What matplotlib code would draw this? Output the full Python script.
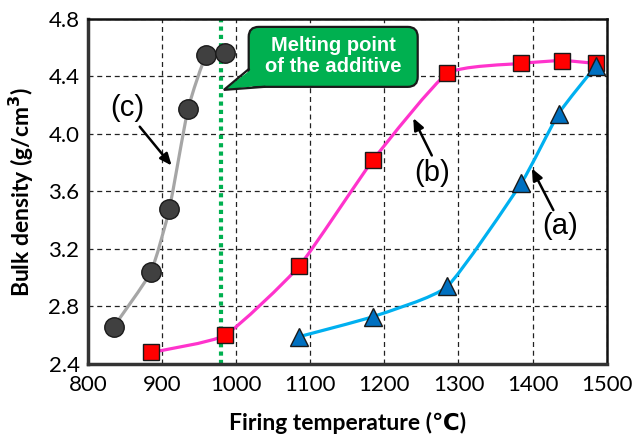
import numpy as np
import matplotlib
matplotlib.use("Agg")
import matplotlib.pyplot as plt
from matplotlib.path import Path
from matplotlib.patches import PathPatch, Polygon, FancyBboxPatch

# ---- data ----
temp_a = [1085, 1185, 1285, 1385, 1435, 1485]
dens_a = [2.59, 2.73, 2.94, 3.66, 4.14, 4.47]

temp_b = [885, 985, 1085, 1185, 1285, 1385, 1440, 1485]
dens_b = [2.48, 2.60, 3.08, 3.82, 4.42, 4.49, 4.51, 4.49]

temp_c = [835, 885, 910, 935, 960, 985]
dens_c = [2.66, 3.04, 3.48, 4.17, 4.55, 4.56]

melting_point = 980
x_ticks = [800, 900, 1000, 1100, 1200, 1300, 1400, 1500]
y_ticks = [2.4, 2.8, 3.2, 3.6, 4.0, 4.4, 4.8]

plt.rcParams['font.family'] = ['Liberation Sans', 'DejaVu Sans']

fig = plt.figure(figsize=(6.32, 4.38), dpi=100)
ax = fig.add_axes([0.139, 0.169, 0.821, 0.788])


def smooth_path(xs, ys, k=1 / 12.0):
    """Gently smoothed line through the points (cubic Bezier)."""
    pts = np.column_stack([xs, ys]).astype(float)
    n = len(pts)
    verts = [pts[0]]
    codes = [Path.MOVETO]
    for i in range(n - 1):
        p0 = pts[i - 1] if i > 0 else pts[i]
        p1 = pts[i]
        p2 = pts[i + 1]
        p3 = pts[i + 2] if i + 2 < n else pts[i + 1]
        c1 = p1 + (p2 - p0) * k
        c2 = p2 - (p3 - p1) * k
        verts += [c1, c2, p2]
        codes += [Path.CURVE4] * 3
    return Path(verts, codes)


series = [
    (temp_c, dens_c, '#A6A6A6', 'o', '#404040', 14),
    (temp_b, dens_b, '#FF33CC', 's', '#FF0000', 12),
    (temp_a, dens_a, '#00B0F0', '^', '#0070C0', 13),
]
for xs, ys, lc, mk, mc, ms in series:
    ax.add_patch(PathPatch(smooth_path(xs, ys), fill=False, edgecolor=lc,
                           lw=2.3, zorder=3, capstyle='round'))
    ax.plot(xs, ys, linestyle='none', marker=mk, markersize=ms,
            markerfacecolor=mc, markeredgecolor='#1a1a1a',
            markeredgewidth=1.0, zorder=4)

# melting point line
ax.axvline(melting_point, color='#00B050', lw=3, linestyle=(0, (1, 1)), zorder=2)

ax.set_xlim(800, 1500)
ax.set_ylim(2.4, 4.8)
ax.set_xticks(x_ticks)
ax.set_yticks(y_ticks)
ax.set_xticklabels([str(v) for v in x_ticks])
ax.set_yticklabels([f'{v:.1f}' for v in y_ticks])
ax.tick_params(axis='x', length=0, labelsize=16, pad=8)
ax.tick_params(axis='y', length=0, labelsize=16, pad=6)
for lab in ax.get_xticklabels() + ax.get_yticklabels():
    lab.set_fontfamily(['Lato', 'DejaVu Sans'])
ax.grid(True, color='#222222', linestyle=(0, (4, 3)), lw=0.9)
ax.set_axisbelow(True)
for side in ['left', 'bottom']:
    ax.spines[side].set_linewidth(2.5)
    ax.spines[side].set_color('#333333')
for side in ['top', 'right']:
    ax.spines[side].set_linewidth(1.8)
    ax.spines[side].set_color('#111111')

ax.set_xlabel('Firing temperature (\u2103)', fontsize=16.5, fontweight='bold',
              labelpad=12, fontfamily=['Lato', 'DejaVu Sans'])
ax.set_ylabel('Bulk density (g/cm$^\\mathbf{3}$)', fontsize=16.5, fontweight='bold',
              labelpad=9, fontfamily=['Lato', 'DejaVu Sans'])

# series labels with arrows
arrow = dict(arrowstyle='-|>,head_length=0.7,head_width=0.3', color='black', lw=1.8,
             shrinkA=0, shrinkB=0)
ax.annotate('', xy=(913, 3.78), xytext=(870, 4.05), arrowprops=arrow, zorder=5)
ax.text(853, 4.18, '(c)', fontsize=21, ha='center', va='center')
ax.annotate('', xy=(1239, 4.11), xytext=(1264, 3.85), arrowprops=arrow, zorder=5)
ax.text(1265, 3.73, '(b)', fontsize=21, ha='center', va='center')
ax.annotate('', xy=(1399, 3.76), xytext=(1428, 3.47), arrowprops=arrow, zorder=5)
ax.text(1437, 3.36, '(a)', fontsize=21, ha='center', va='center')

# callout box (rounded corners corrected for axis aspect)
x_per_px = 700 / 519.0
y_per_px = 2.4 / 345.0
box_l, box_r, box_b, box_t = 1017, 1245, 4.327, 4.744
ax.add_patch(FancyBboxPatch((box_l, box_b), box_r - box_l, box_t - box_b,
                            boxstyle='round,pad=0,rounding_size=%f' % (10 * x_per_px),
                            mutation_aspect=y_per_px / x_per_px,
                            fc='#00B050', ec='#1a1a1a', lw=1.6, zorder=7))
tip = (983.5, 4.306)
base_up = (box_l, 4.45)
base_lo = (1038, box_b)
ax.add_patch(Polygon([(box_l + 4, 4.45), tip, (1038, box_b + 0.012), (1045, 4.40)],
                     closed=True, fc='#00B050', ec='none', zorder=8))
ax.plot([base_up[0], tip[0], base_lo[0]], [base_up[1], tip[1], base_lo[1]],
        color='#1a1a1a', lw=1.6, zorder=8, solid_joinstyle='miter')
ax.text((box_l + box_r) / 2, (box_b + box_t) / 2 + 0.005, 'Melting point\nof the additive',
        fontsize=14.5, fontweight='bold', color='white', ha='center', va='center',
        linespacing=1.12, zorder=9)

fig.savefig('out.png', dpi=100)
